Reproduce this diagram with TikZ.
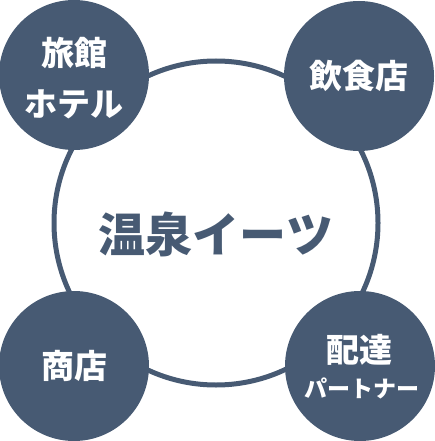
\documentclass[tikz,border=0pt]{standalone}
\usepackage{fontspec}
\newfontfamily\jp{Noto Sans CJK JP}
\definecolor{slate}{HTML}{475A73}
\begin{document}
\begin{tikzpicture}[x=1pt,y=-1pt,
  hub/.style={circle,draw=slate,line width=5pt,minimum size=324pt,inner sep=0pt},
  spoke/.style={circle,fill=slate,minimum size=150pt,inner sep=0pt,text=white,align=center,font=\jp\bfseries\fontsize{33}{51}\selectfont},
  spoketext/.style={text=white,align=center,inner sep=0pt},
  hubtext/.style={text=slate,font=\jp\bfseries\fontsize{47}{50}\selectfont}]
\useasboundingbox (0,0) rectangle (434,441);
\node[hub] (hub) at (216,223) {};
\node[hubtext] (title) at (216,234) {温泉イーツ};
\node[spoke] (ryokan) at (74,75) {};
\node[spoketext,font=\jp\bfseries\fontsize{33}{51}\selectfont] (ryokant) at (74,78) {旅館\\ホテル};
\node[spoke] (inshoku) at (359,76) {飲食店};
\node[spoke] (shoten) at (74,366) {商店};
\node[spoke] (haitatsu) at (360,366) {};
\node[spoketext,font=\jp\bfseries\fontsize{33}{40}\selectfont] (haitatsut) at (359,350) {配達};
\node[spoketext,font=\jp\bfseries\fontsize{23}{28}\selectfont] (partner) at (362,388) {パートナー};
\end{tikzpicture}
\end{document}
